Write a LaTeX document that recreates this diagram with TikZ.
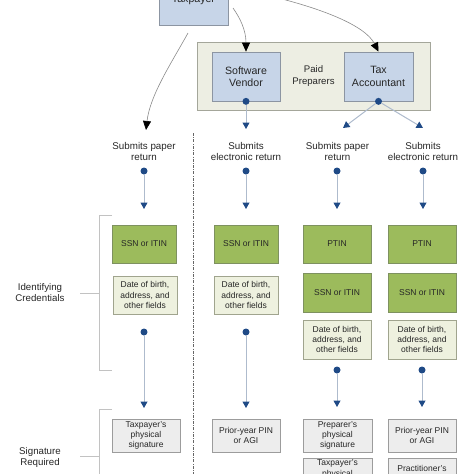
\documentclass[tikz,border=0pt]{standalone}
\usepackage{fontspec}
\setmainfont{Liberation Sans}
\usetikzlibrary{arrows.meta}
\definecolor{bluefill}{HTML}{C7D5E8}
\definecolor{blueline}{HTML}{8C95A2}
\definecolor{prepfill}{HTML}{EDEEE3}
\definecolor{prepline}{HTML}{A4A69A}
\definecolor{greenfill}{HTML}{9CBB5C}
\definecolor{greenline}{HTML}{7E9160}
\definecolor{datefill}{HTML}{EEF1DF}
\definecolor{dateline}{HTML}{A0A48E}
\definecolor{grayfill}{HTML}{EDEDED}
\definecolor{grayline}{HTML}{9C9C9C}
\definecolor{navy}{HTML}{1F4A86}
\definecolor{connline}{HTML}{AEBBCD}
\definecolor{bracketcol}{HTML}{C2C2C2}
\definecolor{txt}{HTML}{262626}
\definecolor{curvecol}{HTML}{8A8A8A}
\begin{document}
\begin{tikzpicture}[x=1pt,y=-1pt,
  every node/.style={text=txt},
  boxbase/.style={draw, line width=0.7pt, align=center, inner sep=0pt, font=\fontsize{8.5}{10.4}\selectfont},
  bluebox/.style={boxbase, fill=bluefill, draw=blueline, minimum width=68pt, minimum height=49pt, font=\fontsize{10.6}{12.3}\selectfont},
  prepbox/.style={boxbase, fill=prepfill, draw=prepline, font=\fontsize{9.6}{12}\selectfont},
  greenbox/.style={boxbase, fill=greenfill, draw=greenline},
  datebox/.style={boxbase, fill=datefill, draw=dateline},
  graybox/.style={boxbase, fill=grayfill, draw=grayline, minimum height=33pt},
  boxtext/.style={align=center, inner sep=0pt, font=\fontsize{8.5}{10.4}\selectfont},
  sublabel/.style={align=center, inner sep=0pt, font=\fontsize{9.8}{11}\selectfont},
  sidelabel/.style={align=center, inner sep=0pt, font=\fontsize{9.7}{11.2}\selectfont},
  dotn/.style={circle, fill=navy, inner sep=0pt, minimum size=7pt},
  conn/.style={draw=connline, line width=1pt, -{Triangle[width=7pt,length=6.5pt,color=navy]}},
  curvy/.style={draw=curvecol, line width=0.6pt, -{Triangle[width=8pt,length=9pt,color=black]}},
  bracketline/.style={draw=bracketcol, line width=0.8pt},
  divider/.style={draw=black!60, line width=0.7pt, dash pattern=on 3pt off 1.4pt on 0.6pt off 1.4pt}
]
\useasboundingbox (0,0) rectangle (474,474);

% top
\node[bluebox, minimum width=69pt, minimum height=50pt] (taxpayer) at (193.5,0) {Taxpayer};
\node[prepbox, minimum width=233pt, minimum height=68pt] (paid) at (313.5,76) {Paid\\Preparers};
\node[bluebox] (sv) at (246,76.5) {Software\\Vendor};
\node[bluebox, minimum width=69pt] (ta) at (378.5,76.5) {Tax\\Accountant};

% curved arrows from taxpayer
\coordinate (tpa) at (188,33);
\coordinate (tpb) at (233,8);
\coordinate (tpc) at (270,-4);
\coordinate (pap) at (146,130);
\draw[curvy] (tpa) .. controls (172,62) and (150,95) .. (pap);
\draw[curvy] (tpb) .. controls (240,18) and (246,30) .. (sv.north);
\draw[curvy] (tpc) .. controls (320,8) and (365,25) .. (ta.north);

% dots on preparers
\node[dotn] (svd) at (sv.south) {};
\node[dotn] (tad) at (ta.south) {};
\coordinate (svt) at (246,129);
\coordinate (tat3) at (343,128);
\coordinate (tat4) at (423,128);
\draw[conn] (svd) -- (svt);
\draw[conn] (tad) -- (tat3);
\draw[conn] (tad) -- (tat4);

% submission labels
\node[sublabel] (s1) at (144,151.5) {Submits paper\\return};
\node[sublabel] (s2) at (246,151.5) {Submits\\electronic return};
\node[sublabel] (s3) at (337.5,151.5) {Submits paper\\return};
\node[sublabel] (s4) at (423,151.5) {Submits\\electronic return};

% dots below labels
\node[dotn] (e1) at (144,171) {};
\node[dotn] (e2) at (246,171) {};
\node[dotn] (e3) at (337,171) {};
\node[dotn] (e4) at (423,171) {};
\coordinate (f1) at (144,209);
\coordinate (f2) at (246,209);
\coordinate (f3) at (337,209);
\coordinate (f4) at (423,209);
\draw[conn] (e1) -- (f1);
\draw[conn] (e2) -- (f2);
\draw[conn] (e3) -- (f3);
\draw[conn] (e4) -- (f4);

% divider
\coordinate (dvt) at (193,133);
\coordinate (dvb) at (193,476);
\draw[divider] (dvt) -- (dvb);

% identifying credentials
\node[greenbox, minimum width=64pt, minimum height=38pt] (c1a) at (144,244) {SSN or ITIN};
\node[greenbox, minimum width=64pt, minimum height=38pt] (c2a) at (246,244) {SSN or ITIN};
\node[greenbox, minimum width=68pt, minimum height=38pt] (c3a) at (337,244) {PTIN};
\node[greenbox, minimum width=68pt, minimum height=38pt] (c4a) at (422,244) {PTIN};

\node[datebox, minimum width=64pt, minimum height=38pt] (c1b) at (145,295) {Date of birth,\\address, and\\other fields};
\node[datebox, minimum width=64pt, minimum height=38pt] (c2b) at (246,295) {Date of birth,\\address, and\\other fields};
\node[greenbox, minimum width=68pt, minimum height=39pt] (c3b) at (337,292.5) {SSN or ITIN};
\node[greenbox, minimum width=68pt, minimum height=39pt] (c4b) at (422,292.5) {SSN or ITIN};

\node[datebox, minimum width=68pt, minimum height=39pt] (c3c) at (337,339.5) {Date of birth,\\address, and\\other fields};
\node[datebox, minimum width=68pt, minimum height=39pt] (c4c) at (422,339.5) {Date of birth,\\address, and\\other fields};

% dots to signatures
\node[dotn] (g1) at (144,332) {};
\node[dotn] (g2) at (246,332) {};
\node[dotn] (g3) at (337,370) {};
\node[dotn] (g4) at (422,370) {};
\coordinate (h1) at (144,408);
\coordinate (h2) at (246,408);
\coordinate (h3) at (337,407);
\coordinate (h4) at (422,407);
\draw[conn] (g1) -- (h1);
\draw[conn] (g2) -- (h2);
\draw[conn] (g3) -- (h3);
\draw[conn] (g4) -- (h4);

% signature boxes
\node[graybox, minimum width=68pt] (p1) at (146,435.5) {Taxpayer's\\physical\\signature};
\node[graybox, minimum width=68pt] (p2) at (246,435.5) {Prior-year PIN\\or AGI};
\node[graybox, minimum width=69pt] (p3) at (337.5,435.5) {Preparer's\\physical\\signature};
\node[graybox, minimum width=68pt] (p4) at (422,435.5) {Prior-year PIN\\or AGI};
\node[graybox, minimum width=69pt] (q3) at (337.5,474.5) {};
\node[graybox, minimum width=68pt] (q4) at (422,474.5) {};
\node[boxtext] (q3t) at (337.5,469) {Taxpayer's\\physical};
\node[boxtext] (q4t) at (422,468) {Practitioner's};

% brackets and side labels
\node[sidelabel] (idl) at (40,292.5) {Identifying\\Credentials};
\node[sidelabel] (sgl) at (40,457.5) {Signature\\Required};
\coordinate (ib1) at (112,215);
\coordinate (ib2) at (99,215);
\coordinate (ib3) at (99,370);
\coordinate (ib4) at (112,370);
\coordinate (im1) at (80,293);
\coordinate (im2) at (99,293);
\draw[bracketline] (ib1) -- (ib2) -- (ib3) -- (ib4);
\draw[bracketline] (im1) -- (im2);
\coordinate (sb1) at (112,409);
\coordinate (sb2) at (99,409);
\coordinate (sb3) at (99,476);
\coordinate (sm1) at (80,456);
\coordinate (sm2) at (99,456);
\draw[bracketline] (sb1) -- (sb2) -- (sb3);
\draw[bracketline] (sm1) -- (sm2);
\end{tikzpicture}
\end{document}
